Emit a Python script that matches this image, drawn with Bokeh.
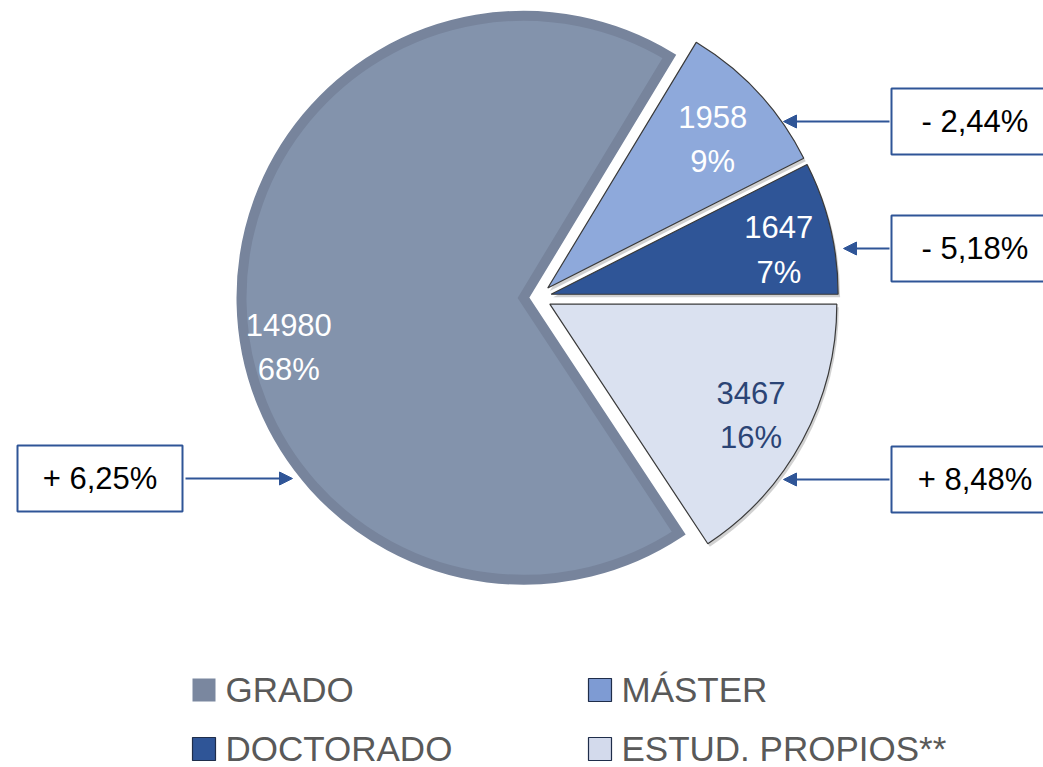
import math
from bokeh.plotting import figure
from bokeh.models import Range1d, Arrow, NormalHead, ColumnDataSource
from bokeh.core.properties import value
from bokeh.embed import file_html
from bokeh.resources import INLINE

# ---------------- data ----------------
categories = ["GRADO", "MÁSTER", "DOCTORADO", "ESTUD. PROPIOS**"]
students = [14980, 1958, 1647, 3467]
pct_labels = ["68%", "9%", "7%", "16%"]
changes = ["+ 6,25%", "- 2,44%", "- 5,18%", "+ 8,48%"]

# ---------------- style / layout ----------------
colors = ["#8393AC", "#8EA9DB", "#2F5597", "#DAE1F0"]
label_colors = ["#FFFFFF", "#FFFFFF", "#FFFFFF", "#2B4475"]
legend_colors = ["#7A879F", "#7E9BD3", "#2F5597", "#D3DAEC"]
pie_order = [2, 1, 0, 3]          # counter-clockwise from 3 o'clock
LABEL_FONT = "Liberation Sans"
LEGEND_FONT = "Liberation Sans"
BLUE = "#2F5597"

W, H = 1043, 767


def Y(y):
    return H - y


cx, cy = 537, Y(297)
R = 287
EXPLODE = 14
label_polar = [(240, 192), (222, 42), (232, 11), (230, -29)]  # offset from slice apex
# annotation boxes: left, right, top, bottom (page pixels)
boxes = [(17, 182, 445, 511), (891, 1058, 88, 154), (891, 1058, 215, 281), (891, 1058, 446, 512)]
arrow_from_x = [185, 889, 889, 889]
arrow_tip_x = [292, 783, 843, 783]
legend_pos = [(192, 678), (588, 678), (192, 737), (588, 737)]
SQ = 23

# ---------------- geometry from data ----------------
total = sum(students)
start = [0.0] * 4
end = [0.0] * 4
a = 0.0
for i in pie_order:
    span = 2 * math.pi * students[i] / total
    start[i] = a
    end[i] = a + span
    a += span
apex_x, apex_y = [], []
for i in range(4):
    mid = (start[i] + end[i]) / 2
    apex_x.append(cx + EXPLODE * math.cos(mid))
    apex_y.append(cy + EXPLODE * math.sin(mid))

p = figure(width=W, height=H, output_backend="svg", toolbar_location=None,
           x_range=Range1d(0, W), y_range=Range1d(0, H), min_border=0,
           background_fill_color="white", border_fill_color="white")
p.axis.visible = False
p.grid.visible = False
p.outline_line_color = None

# shadows of the small slices
small = [1, 2, 3]
p.wedge(x=[apex_x[i] + 2 for i in small], y=[apex_y[i] - 3 for i in small], radius=R,
        start_angle=[start[i] for i in small], end_angle=[end[i] for i in small],
        fill_color="#000000", fill_alpha=0.18, line_color=None)

# GRADO with its darker band
p.wedge(x=apex_x[0], y=apex_y[0], radius=R - 5, start_angle=start[0], end_angle=end[0],
        fill_color=colors[0], line_color="#77849C", line_width=10, line_join="miter")

# other slices
p.wedge(x=[apex_x[i] for i in small], y=[apex_y[i] for i in small], radius=R,
        start_angle=[start[i] for i in small], end_angle=[end[i] for i in small],
        fill_color=[colors[i] for i in small], line_color="#3A3A3A", line_width=1.2)

# slice labels
lx, ly = [], []
for i in range(4):
    d, ang = label_polar[i]
    lx.append(apex_x[i] + d * math.cos(math.radians(ang)))
    ly.append(apex_y[i] + d * math.sin(math.radians(ang)))
lab_src = ColumnDataSource(dict(x=lx, y=ly,
                                t=[f"{students[i]}\n{pct_labels[i]}" for i in range(4)],
                                c=label_colors))
p.text(x="x", y="y", text="t", source=lab_src, text_color="c",
       text_font=value(LABEL_FONT), text_font_size="31px",
       text_align="center", text_baseline="middle", text_line_height=1.26)

# change boxes and arrows
for i in range(4):
    l, r, t, b = boxes[i]
    p.quad(left=l, right=r, top=Y(t), bottom=Y(b), fill_color="white",
           line_color=BLUE, line_width=2)
    p.text(x=[(l + r) / 2], y=[Y((t + b) / 2)], text=[changes[i]],
           text_font=value(LABEL_FONT), text_font_size="31px", text_color="#000000",
           text_align="center", text_baseline="middle")
    ymid = Y((t + b) / 2)
    p.add_layout(Arrow(end=NormalHead(size=13, fill_color=BLUE, line_color=BLUE),
                       x_start=arrow_from_x[i], y_start=ymid,
                       x_end=arrow_tip_x[i], y_end=ymid,
                       line_color=BLUE, line_width=2))

# legend
for i in range(4):
    sx, sy = legend_pos[i]
    p.quad(left=sx, right=sx + SQ, top=Y(sy), bottom=Y(sy + SQ),
           fill_color=legend_colors[i],
           line_color=None if i == 0 else "#1F2D4A", line_width=1.2)
    p.text(x=[sx + SQ + 10], y=[Y(sy + SQ / 2 - 1)], text=[categories[i]],
           text_font=value(LEGEND_FONT), text_font_size="35px", text_color="#595959",
           text_align="left", text_baseline="middle")

open("out.html", "w").write(file_html(p, INLINE))
